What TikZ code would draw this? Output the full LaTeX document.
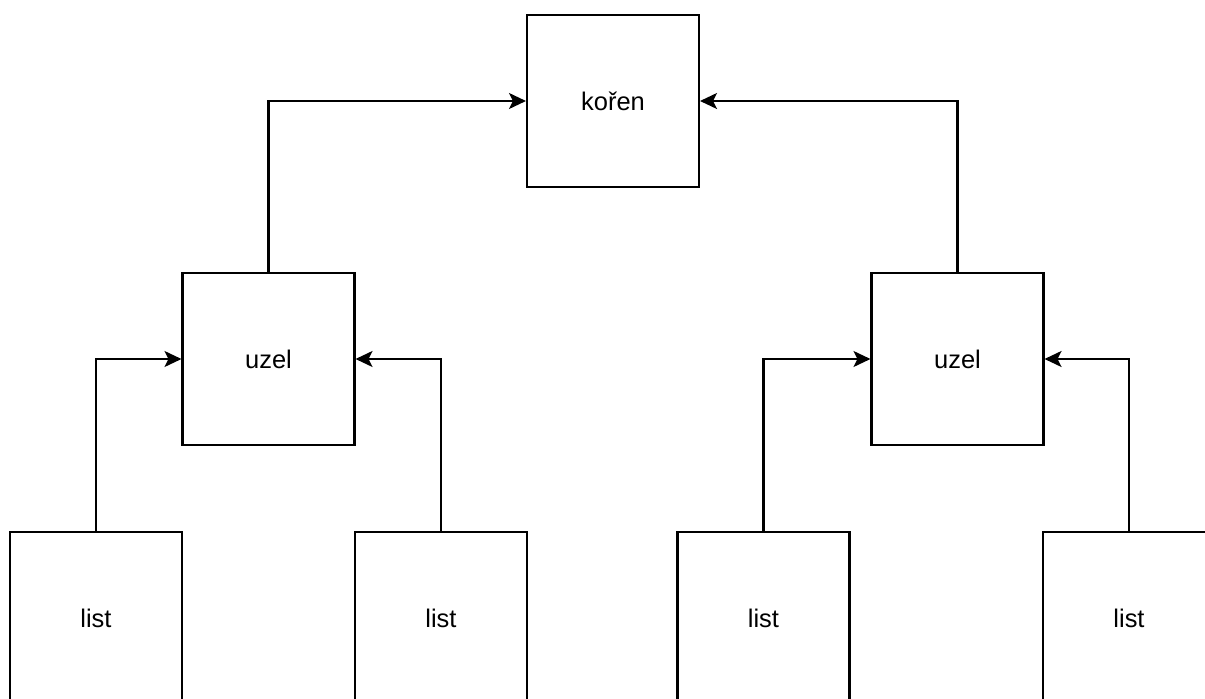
\documentclass[tikz,border=0pt]{standalone}
\usepackage{fontspec}
\setmainfont{Liberation Sans}
\usetikzlibrary{arrows.meta}
\begin{document}
\begin{tikzpicture}[x=0.02cm,y=-0.02cm,
  box/.style={draw,line width=1.2pt,minimum width=3.44cm,minimum height=3.44cm,inner sep=0pt,font=\fontsize{14.5}{17}\selectfont},
  edge/.style={-{Stealth[length=0.34cm,width=0.32cm,inset=0.08cm]},line width=1.2pt}]
\useasboundingbox (0,0) rectangle (1205,699);
\node[box] (R) at (613,101) {kořen};
\node[box] (U1) at (268.5,359) {uzel};
\node[box] (U2) at (957.5,359) {uzel};
\foreach \n/\x in {1/96,2/441,3/763.5,4/1129}
  \node[box] (L\n) at (\x,618) {list};
\draw[edge] (U1.north) |- (R.west);
\draw[edge] (U2.north) |- (R.east);
\foreach \l/\u/\s in {1/1/west,2/1/east,3/2/west,4/2/east}
  \draw[edge] (L\l.north) |- (U\u.\s);
\end{tikzpicture}
\end{document}
